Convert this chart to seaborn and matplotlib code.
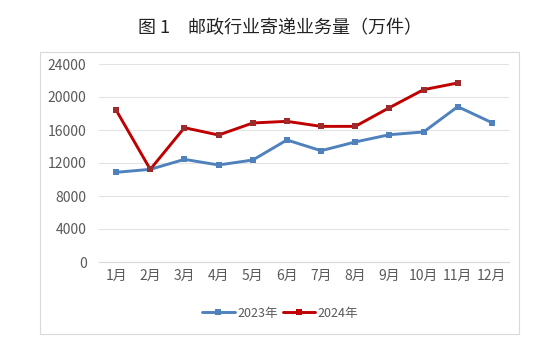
import pandas as pd
import seaborn as sns
import matplotlib.pyplot as plt
from matplotlib.patches import Rectangle

months = ['1月', '2月', '3月', '4月', '5月', '6月', '7月', '8月', '9月', '10月', '11月', '12月']
vol_2023 = [10870, 11230, 12440, 11760, 12360, 14790, 13490, 14550, 15430, 15760, 18830, 16890]
vol_2024 = [18420, 11230, 16280, 15390, 16850, 17050, 16440, 16440, 18710, 20890, 21700, None]
yticks = [0, 4000, 8000, 12000, 16000, 20000, 24000]

df = pd.DataFrame({'月份': months * 2,
                   '业务量': vol_2023 + vol_2024,
                   '年份': ['2023年'] * 12 + ['2024年'] * 12})

sns.set_style('white')
plt.rcParams['font.family'] = ['Noto Sans CJK SC', 'DejaVu Sans']

W, H = 559, 356
fig = plt.figure(figsize=(W / 100, H / 100), dpi=100)

# outer chart frame
fig.patches.append(Rectangle((40 / W, 1 - 334 / H), 479 / W, 282 / H,
                             transform=fig.transFigure, fill=False,
                             edgecolor='#d9d9d9', linewidth=0.8))

ax = fig.add_axes([99 / W, 1 - 262 / H, 410 / W, 198 / H])
sns.lineplot(data=df, x='月份', y='业务量', hue='年份', ax=ax,
             palette=['#4f81bd', '#c00000'], linewidth=2.1,
             marker='s', markersize=4.5, markeredgewidth=0, sort=False)
for line, mc in zip(ax.get_lines()[:2], ['#4f81bd', '#9b2b2c']):
    line.set_markerfacecolor(mc)

ax.set_ylim(0, 24000)
ax.set_xlim(-0.5, 11.5)
ax.set_yticks(yticks)
ax.set_yticklabels([str(v) for v in yticks])
ax.yaxis.grid(True, color='#e3e3e3', linewidth=0.8)
ax.set_axisbelow(True)
for s in ['top', 'right', 'left']:
    ax.spines[s].set_visible(False)
ax.spines['bottom'].set_color('#d9d9d9')
ax.tick_params(axis='both', length=0, labelsize=10, colors='#595959')
ax.tick_params(axis='y', pad=9)
ax.tick_params(axis='x', pad=5)
ax.set_xlabel('')
ax.set_ylabel('')

ax.legend(loc='center', bbox_to_anchor=(280 / W, 1 - 313 / H),
          bbox_transform=fig.transFigure, ncol=2, frameon=False,
          fontsize=9, labelcolor='#595959', handlelength=2.6,
          handletextpad=0.2, columnspacing=0.4, title=None)

fig.text(0.5, 1 - 28 / H, '图 1　邮政行业寄递业务量（万件）', ha='center', va='center',
         fontsize=13, color='#222222')

fig.savefig('out.png', dpi=100)
